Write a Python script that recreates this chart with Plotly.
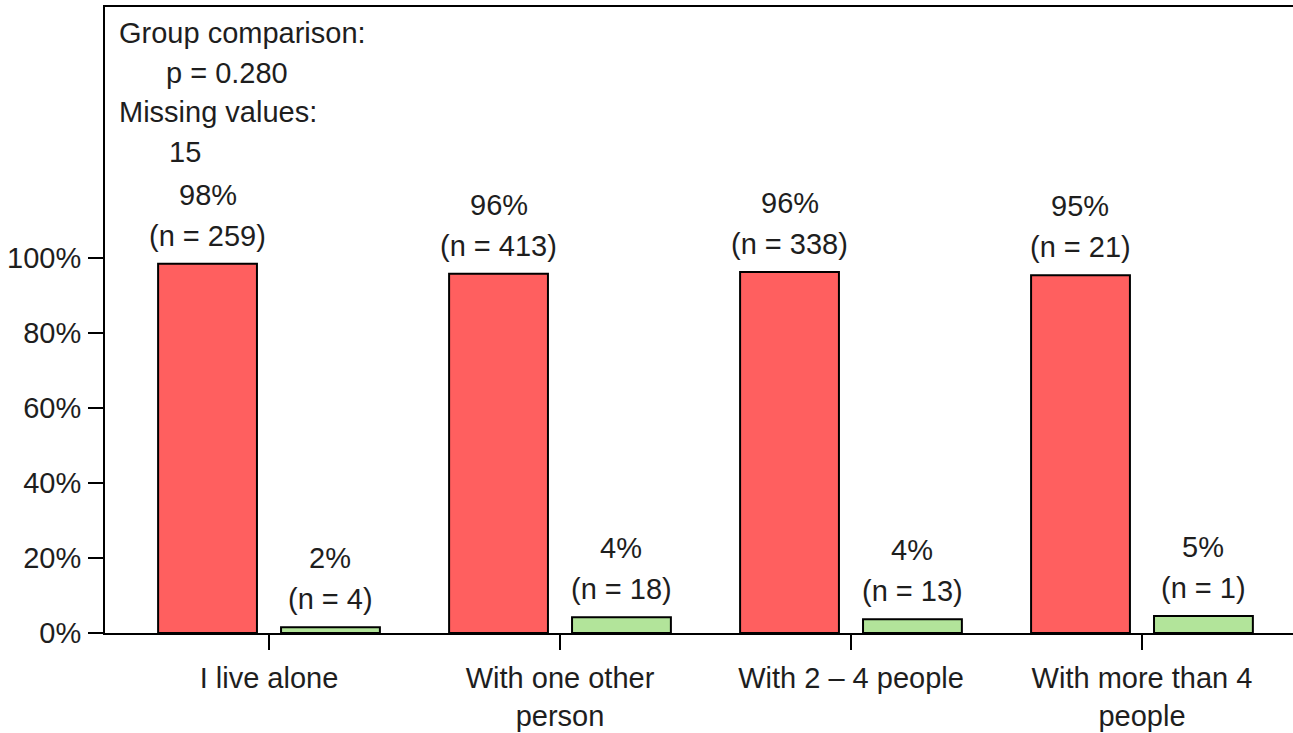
import plotly.graph_objects as go

categories = ["I live alone", "With one other<br>person", "With 2 – 4 people", "With more than 4<br>people"]
yes_pct = [98.48, 95.82, 96.30, 95.45]
no_pct = [1.52, 4.18, 3.70, 4.55]
yes_n = [259, 413, 338, 21]
no_n = [4, 18, 13, 1]
yes_lbl = ["98%", "96%", "96%", "95%"]
no_lbl = ["2%", "4%", "4%", "5%"]
y_ticks = [0, 20, 40, 60, 80, 100]
y_ticktext = ["0%", "20%", "40%", "60%", "80%", "100%"]
info_lines = ["Group comparison:", "p = 0.280", "Missing values:", "15"]

FONT = "Liberation Sans, Arial, sans-serif"
TXT = "#1e1e1e"
FS = 29

fig = go.Figure()
fig.add_trace(go.Bar(x=categories, y=yes_pct, marker=dict(color="#FF5F5F", line=dict(color="black", width=2)), hoverinfo="skip"))
fig.add_trace(go.Bar(x=categories, y=no_pct, marker=dict(color="#B2E49A", line=dict(color="black", width=2)), hoverinfo="skip"))

ann = []
off = 0.2113
for i, c in enumerate(categories):
    for vals, ns, lbls, sgn in ((yes_pct, yes_n, yes_lbl, -1), (no_pct, no_n, no_lbl, 1)):
        xpos = i + sgn * off
        ann.append(dict(x=xpos, y=vals[i], xref="x", yref="y", text=f"(n = {ns[i]})", showarrow=False,
                        yanchor="bottom", xanchor="center", yshift=10, font=dict(size=FS, color=TXT, family=FONT)))
        ann.append(dict(x=xpos, y=vals[i], xref="x", yref="y", text=lbls[i], showarrow=False,
                        yanchor="bottom", xanchor="center", yshift=51, font=dict(size=FS, color=TXT, family=FONT)))

info_x = [117, 164, 117, 167]
for j, t in enumerate(info_lines):
    ann.append(dict(x=(info_x[j] - 105) / (1293 - 105), y=1, xref="paper", yref="paper", text=t, showarrow=False,
                    xanchor="left", yanchor="top", yshift=-8 - 39.7 * j, font=dict(size=FS, color=TXT, family=FONT)))

fig.update_layout(
    width=1293, height=733,
    margin=dict(l=105, r=0, t=7, b=100),
    paper_bgcolor="white", plot_bgcolor="white",
    showlegend=False,
    barmode="group", bargap=0.155, bargroupgap=0.196,
    annotations=ann,
    font=dict(family=FONT, size=FS, color=TXT),
)
fig.update_xaxes(
    type="category", range=[-0.5636, 3.519], automargin=False,
    showline=True, linecolor="black", linewidth=2, mirror=True,
    ticks="outside", ticklen=15, tickwidth=2, tickcolor="black",
    ticklabelstandoff=3,
    showgrid=False, zeroline=False,
    tickfont=dict(size=FS, color=TXT, family=FONT),
)
fig.update_yaxes(
    range=[0, 167], automargin=False,
    tickvals=y_ticks, ticktext=y_ticktext,
    showline=True, linecolor="black", linewidth=2, mirror=False,
    ticks="outside", ticklen=15, tickwidth=2, tickcolor="black",
    ticklabelstandoff=1,
    showgrid=False, zeroline=False,
    tickfont=dict(size=FS, color=TXT, family=FONT),
)

fig.write_html("out.html", config={"displayModeBar": False},
               post_script="document.body.style.margin='0';document.body.style.overflow='hidden';")
